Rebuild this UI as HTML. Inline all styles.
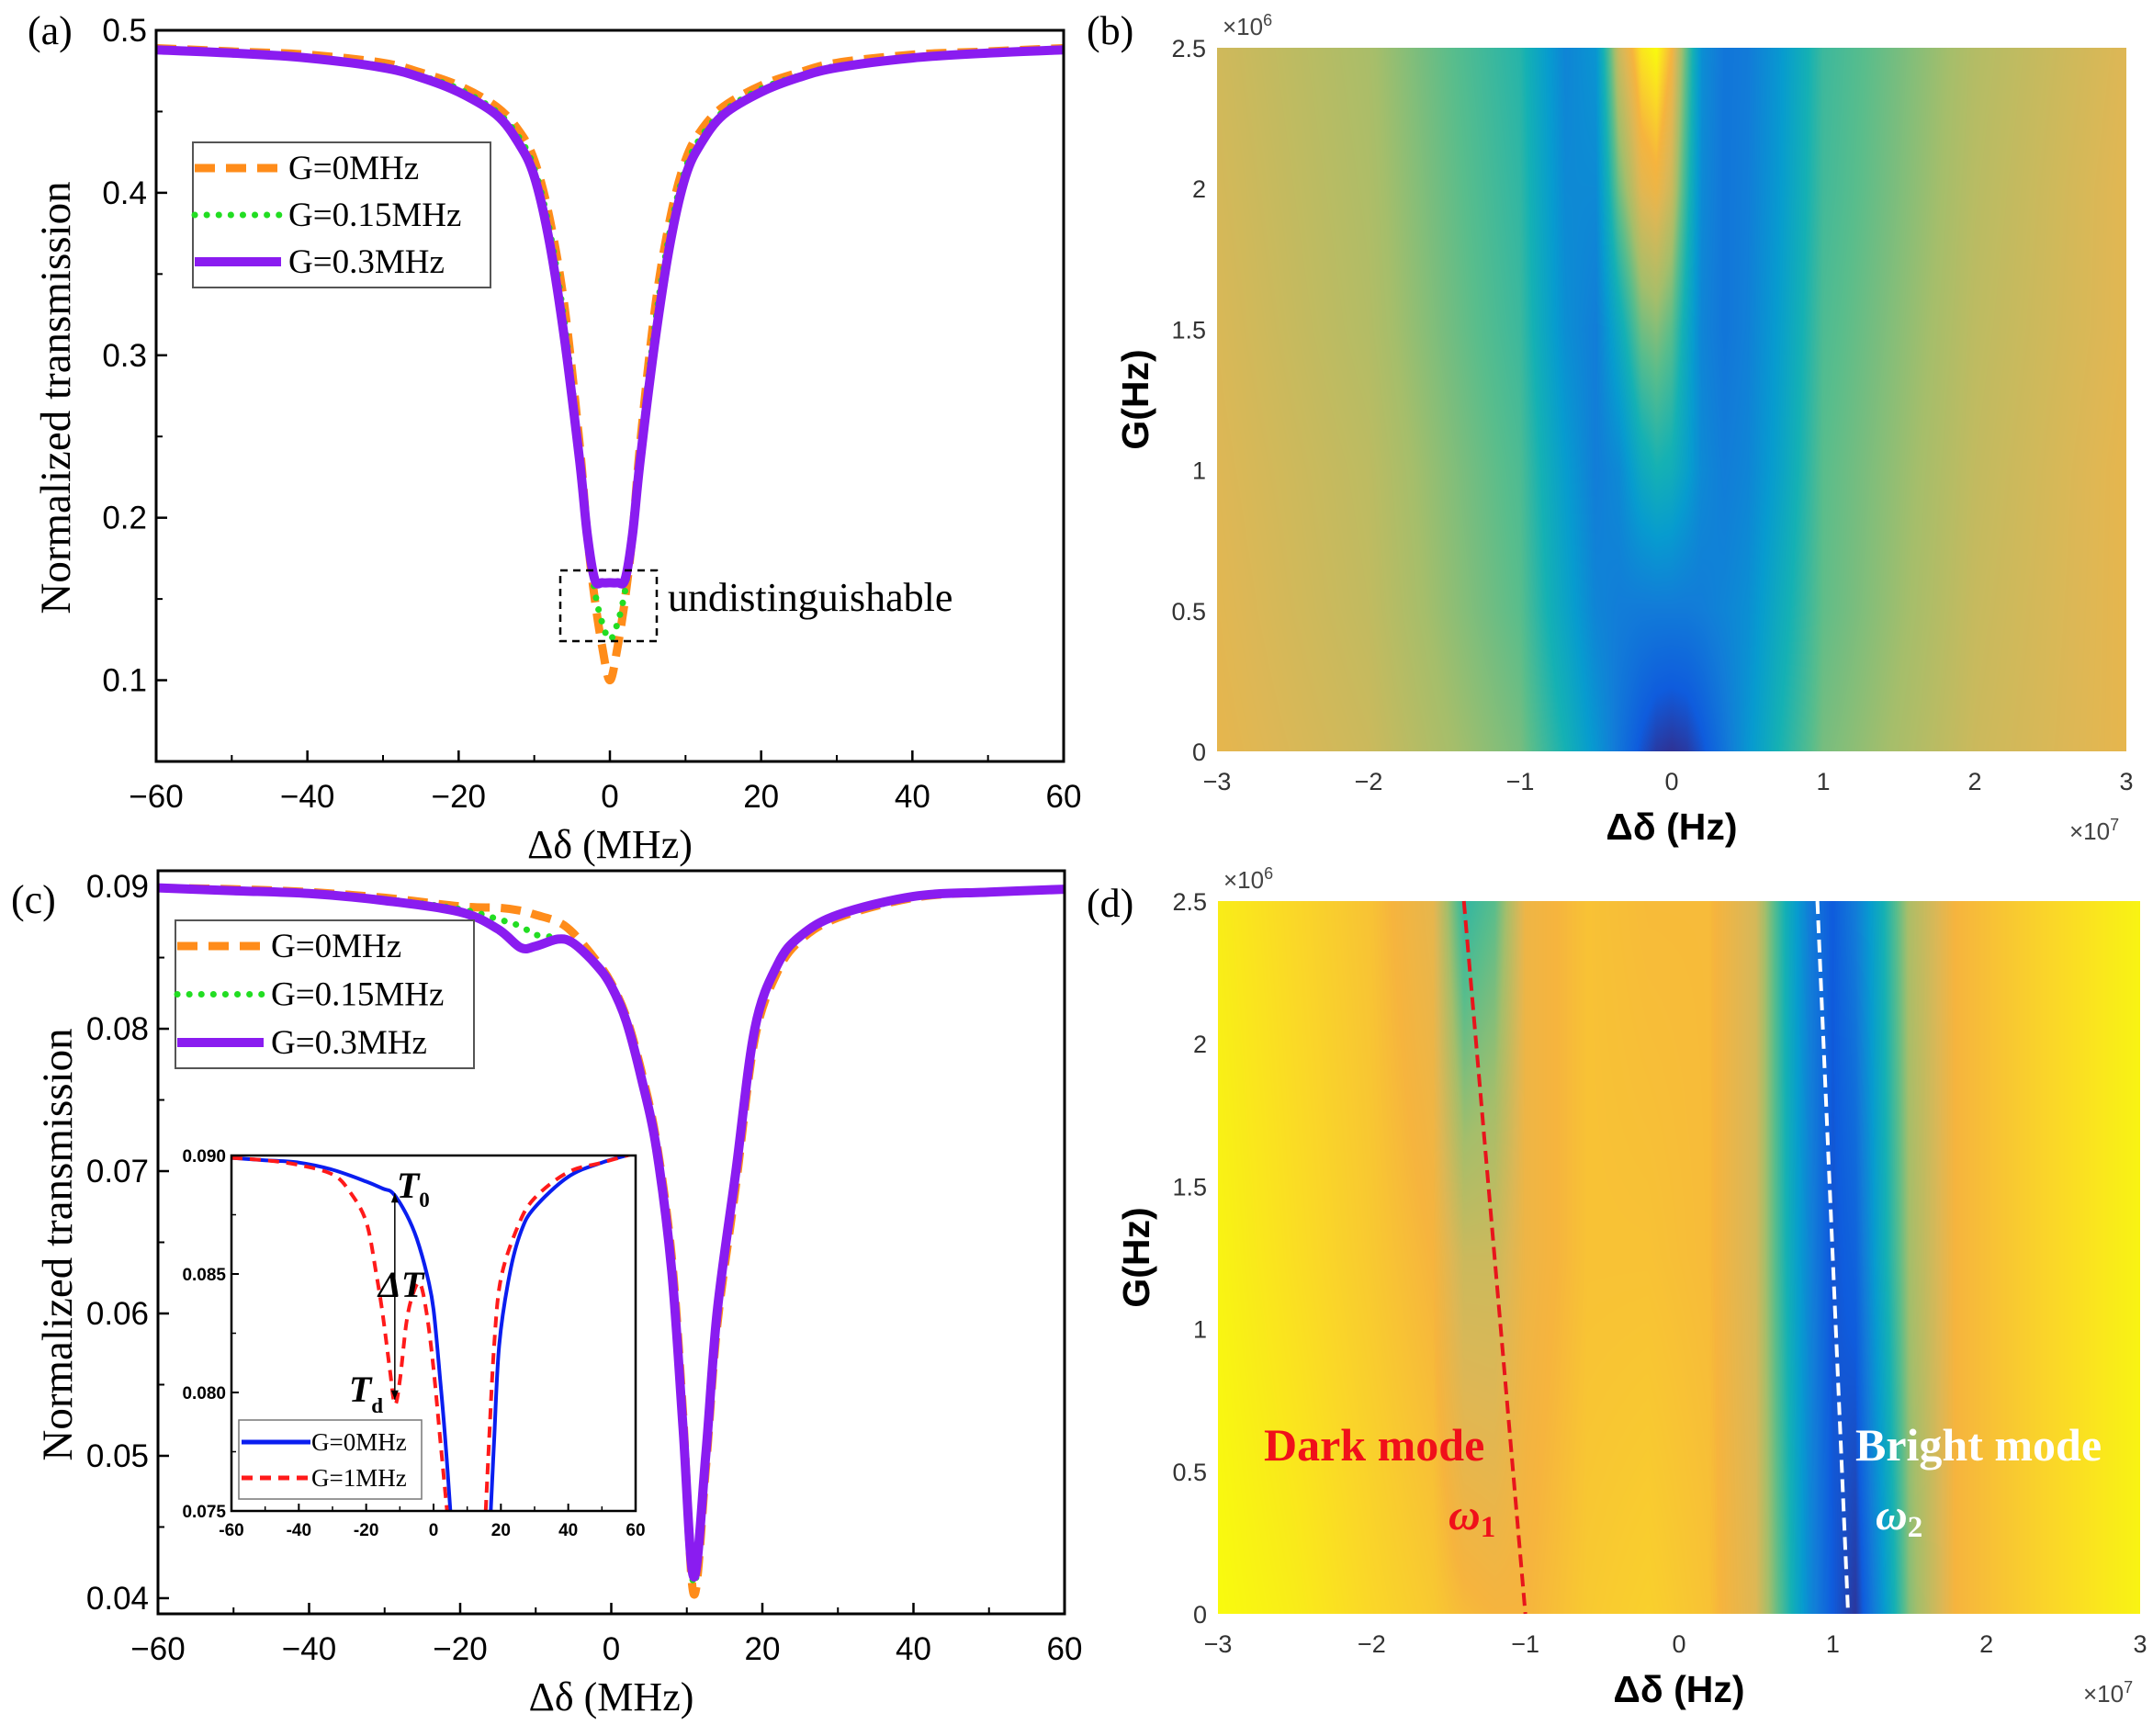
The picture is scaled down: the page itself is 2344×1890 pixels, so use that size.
<!DOCTYPE html>
<html><head><meta charset="utf-8">
<style>
html,body{margin:0;padding:0;background:#fff;}
#wrap{position:relative;width:2344px;height:1890px;overflow:hidden;}
canvas{position:absolute;}
svg{position:absolute;left:0;top:0;}
</style></head>
<body>
<div id="wrap">
<canvas id="hb"></canvas>
<canvas id="hd"></canvas>
<svg id="s" width="2344" height="1890" xmlns="http://www.w3.org/2000/svg"></svg>
</div>
<script>
// ---------- Panel (a) data ----------
const aX = [-60,-50,-40,-30,-25,-20,-15,-12,-10,-8,-6,-4,-3,-2,-1,0,1,2,3,4,6,8,10,12,15,20,25,30,40,50,60];
const aPurple = [0.488,0.486,0.483,0.477,0.471,0.462,0.448,0.43,0.41,0.37,0.31,0.235,0.19,0.162,0.16,0.16,0.16,0.162,0.19,0.235,0.31,0.37,0.41,0.43,0.448,0.462,0.471,0.477,0.483,0.486,0.488];
const aGreen  = [0.488,0.486,0.483,0.478,0.472,0.464,0.45,0.434,0.415,0.378,0.32,0.24,0.19,0.155,0.135,0.125,0.135,0.155,0.19,0.24,0.32,0.378,0.415,0.434,0.45,0.464,0.472,0.478,0.483,0.486,0.488];
const aOrange = [0.489,0.487,0.485,0.480,0.474,0.466,0.453,0.438,0.42,0.385,0.33,0.245,0.19,0.15,0.12,0.10,0.12,0.15,0.19,0.245,0.33,0.385,0.42,0.438,0.453,0.466,0.474,0.480,0.485,0.487,0.489];
const aXTicks = [-60,-40,-20,0,20,40,60];
const aYTicks = [0.1,0.2,0.3,0.4,0.5];
// ---------- Panel (c) data ----------
const cX = [-60,-50,-40,-30,-20,-15,-12,-10,-7,-5,-2,0,2,4,6,8,9.5,10.9,12.5,14,16.5,19,22,25,30,40,50,60];
const cPurple = [0.0899,0.0897,0.0895,0.0890,0.0882,0.0870,0.0857,0.0858,0.0863,0.0860,0.0845,0.0830,0.0805,0.0765,0.0715,0.0630,0.0520,0.0415,0.0500,0.0600,0.0700,0.0800,0.0845,0.0865,0.0880,0.0893,0.0896,0.0898];
const cGreen  = [0.0899,0.0897,0.0895,0.0891,0.0884,0.0877,0.0872,0.0866,0.0864,0.0860,0.0846,0.0831,0.0807,0.0768,0.0718,0.0635,0.0525,0.0410,0.0495,0.0595,0.0695,0.0797,0.0843,0.0864,0.0879,0.0892,0.0896,0.0898];
const cOrange = [0.0899,0.0898,0.0896,0.0892,0.0886,0.0885,0.0883,0.0880,0.0875,0.0867,0.0848,0.0832,0.0808,0.0770,0.0720,0.0640,0.0530,0.0403,0.0490,0.0590,0.0690,0.0793,0.0840,0.0862,0.0878,0.0892,0.0896,0.0898];
const cXTicks = [-60,-40,-20,0,20,40,60];
const cYTicks = [0.04,0.05,0.06,0.07,0.08,0.09];
// ---------- Inset data ----------
const iBlueX = [-60,-50,-40,-30,-20,-15,-12,-8,-5,-2,0,2,3.5,5];
const iBlueY = [0.0899,0.0898,0.0897,0.0894,0.0889,0.0886,0.0884,0.0875,0.0865,0.0850,0.0835,0.0805,0.0780,0.0750];
const iBlueX2 = [17,18,19.5,22.6,26,30,40,50,60];
const iBlueY2 = [0.0750,0.0780,0.0820,0.0850,0.0868,0.0878,0.0891,0.0897,0.0901];
const iRedX = [-60,-50,-40,-30,-25,-20,-17,-15,-13,-11.5,-10,-8,-6,-4,-2,0,2,3,4];
const iRedY = [0.0899,0.0898,0.0896,0.0892,0.0885,0.0872,0.0850,0.0832,0.0810,0.0795,0.0805,0.0830,0.0842,0.0846,0.0833,0.0810,0.0780,0.0765,0.0750];
const iRedX2 = [15.5,16.5,18,20,25,30,40,50,60];
const iRedY2 = [0.0750,0.0780,0.0820,0.0848,0.0870,0.0882,0.0893,0.0897,0.0901];
const iXTicks = [-60,-40,-20,0,20,40,60];
const iYTicks = [0.075,0.080,0.085,0.090];
// ---------- Heatmap (b) data ----------
const bX = [-3,-2,-1,-0.7,-0.5,-0.35,-0.2,-0.1,0,0.1,0.2,0.35,0.5,0.7,1,2,3];
const bG = [0,0.5,1,1.5,2,2.5];
const bV = [
 [.86,.80,.66,.50,.35,.22,.10,.04,.02,.04,.10,.22,.35,.50,.66,.80,.86],
 [.85,.78,.62,.42,.28,.25,.24,.24,.24,.24,.25,.28,.32,.45,.63,.79,.86],
 [.84,.77,.60,.38,.25,.30,.45,.50,.48,.40,.30,.25,.28,.40,.62,.78,.86],
 [.83,.75,.57,.32,.25,.45,.65,.68,.62,.45,.28,.22,.26,.38,.60,.77,.85],
 [.82,.74,.55,.30,.30,.65,.85,.88,.80,.55,.30,.22,.25,.36,.58,.76,.85],
 [.81,.73,.53,.28,.35,.80,.97,1.0,.90,.62,.32,.22,.24,.35,.57,.75,.84]];
// ---------- Heatmap (d) data ----------
const dX = [-3,-2.5,-2,-1.6,-1.4,-1.2,-1,-0.6,-0.2,0.2,0.5,0.7,0.85,1,1.15,1.3,1.5,1.8,2.3,3];
const dG = [0,1.25,2.5];
const dV = [
 [1.0,.98,.95,.93,.91,.90,.90,.93,.94,.92,.84,.55,.30,.12,.03,.30,.68,.90,.94,.99],
 [.99,.96,.93,.90,.80,.80,.88,.92,.92,.91,.82,.50,.28,.10,.15,.42,.72,.90,.94,.99],
 [.98,.95,.92,.86,.55,.62,.88,.92,.91,.91,.82,.48,.25,.12,.25,.45,.74,.90,.94,.99]];
const hXTicks = [-3,-2,-1,0,1,2,3];
const hYTicks = [0,0.5,1,1.5,2,2.5];
const darkLine = [[-1.4,2.5],[-1.0,0]];
const brightLine = [[0.9,2.5],[1.1,0]];

const NS='http://www.w3.org/2000/svg';
const S=document.getElementById('s');
function el(tag,attrs,parent,txt){const e=document.createElementNS(NS,tag);for(const k in attrs)e.setAttribute(k,attrs[k]);if(txt!==undefined)e.textContent=txt;(parent||S).appendChild(e);return e;}
function scale(d0,d1,r0,r1){return v=>r0+(v-d0)/(d1-d0)*(r1-r0);}
function path(xs,ys,fx,fy){
  const P=xs.map((x,i)=>[fx(x),fy(ys[i])]);
  let d='M'+P[0][0].toFixed(1)+' '+P[0][1].toFixed(1);
  for(let i=0;i<P.length-1;i++){
    const p0=P[Math.max(0,i-1)],p1=P[i],p2=P[i+1],p3=P[Math.min(P.length-1,i+2)];
    const c1=[p1[0]+(p2[0]-p0[0])/6,p1[1]+(p2[1]-p0[1])/6];
    const c2=[p2[0]-(p3[0]-p1[0])/6,p2[1]-(p3[1]-p1[1])/6];
    d+=` C${c1[0].toFixed(1)} ${c1[1].toFixed(1)} ${c2[0].toFixed(1)} ${c2[1].toFixed(1)} ${p2[0].toFixed(1)} ${p2[1].toFixed(1)}`;
  }
  return d;
}
const SERIF='"Liberation Serif",serif', SANS='"Liberation Sans",sans-serif';

function linePanel(P){
  const g=el('g',{});
  
  
  const fx=scale(-60,60,P.L,P.R), fy=scale(P.y0,P.y1,P.B,P.T);
  const clip=el('clipPath',{id:P.name+'-clip'},g);el('rect',{x:P.L,y:P.T,width:P.R-P.L,height:P.B-P.T},clip);
  P.xt.forEach(v=>{
    const t=el('line',{x1:fx(v),x2:fx(v),y1:P.B,y2:P.B-12,stroke:'#000','stroke-width':2.5},g);
    
    const l=el('text',{x:fx(v),y:P.B+50,'font-family':SANS,'font-size':35,'text-anchor':'middle'},g,(v<0?'\u2212'+(-v):v));
    
  });
  for(let i=0;i<P.xt.length-1;i++){const m=(P.xt[i]+P.xt[i+1])/2;el('line',{x1:fx(m),x2:fx(m),y1:P.B,y2:P.B-7,stroke:'#000','stroke-width':2},g);}
  P.yt.forEach((v,i)=>{
    const t=el('line',{x1:P.L,x2:P.L+12,y1:fy(v),y2:fy(v),stroke:'#000','stroke-width':2.5},g);
    
    const l=el('text',{x:P.L-10,y:fy(v)+12,'font-family':SANS,'font-size':35,'text-anchor':'end'},g,P.yfmt(v));
    
    if(i<P.yt.length-1){const m=(v+P.yt[i+1])/2;el('line',{x1:P.L,x2:P.L+7,y1:fy(m),y2:fy(m),stroke:'#000','stroke-width':2},g);}
  });
  if(P.yminor!==undefined)el('line',{x1:P.L,x2:P.L+7,y1:fy(P.yminor),y2:fy(P.yminor),stroke:'#000','stroke-width':2},g);
  const cg=el('g',{'clip-path':'url(#'+P.name+'-clip)'},g);
  P.series.forEach(s=>{
    const p=el('path',{d:path(s.x,s.y,fx,fy),fill:'none',stroke:s.c,'stroke-width':s.w,'stroke-dasharray':s.dash||'none','stroke-linecap':s.cap||'butt','stroke-linejoin':'round'},cg);
    
  });
  const f=el('rect',{x:P.L,y:P.T,width:P.R-P.L,height:P.B-P.T,fill:'none',stroke:'#000','stroke-width':3},g);
  
  const xt=el('text',{x:(P.L+P.R)/2,y:P.B+105,'font-family':SERIF,'font-size':44,'text-anchor':'middle'},g,'\u0394\u03b4 (MHz)');
  
  const yt=el('text',{x:0,y:0,transform:`translate(${P.L-94},${P.ytitleY}) rotate(-90)`,'font-family':SERIF,'font-size':47,'text-anchor':'middle'},g,'Normalized transmission');
  
  const lg=el('g',{},g);
  el('rect',{x:P.lg[0],y:P.lg[1],width:P.lg[2],height:P.lg[3],fill:'#fff',stroke:'#555','stroke-width':2},lg);
  P.series.forEach((s,i)=>{
    const y=P.lg[1]+28+i*(P.lg[3]-56)/2;
    const e=el('g',{},lg);
    el('line',{x1:P.lg[0]+2,x2:P.lg[0]+96,y1:y,y2:y,stroke:s.c,'stroke-width':s.w,'stroke-dasharray':s.dash||'none','stroke-linecap':s.cap||'butt'},e);
    el('text',{x:P.lg[0]+104,y:y+12,'font-family':SERIF,'font-size':37},e,s.label);
  });
  return {fx,fy,g};
}
const serA=[
 {n:'series-g0',x:aX,y:aOrange,c:'#ff8c1a',w:9,dash:'22 12',label:'G=0MHz'},
 {n:'series-g015',x:aX,y:aGreen,c:'#22dd22',w:7,dash:'0.1 13',cap:'round',label:'G=0.15MHz'},
 {n:'series-g03',x:aX,y:aPurple,c:'#8a1cf0',w:10,label:'G=0.3MHz'}];
linePanel({name:'panel-a',L:170,R:1158,T:33,B:829,y0:0.05,y1:0.5,xt:aXTicks,yt:aYTicks,yfmt:v=>v.toFixed(1),yminor:0.05,ytitleY:433,
 series:serA,lg:[210,155,324,158]});
const serC=[
 {n:'series-g0',x:cX,y:cOrange,c:'#ff8c1a',w:9,dash:'22 12',label:'G=0MHz'},
 {n:'series-g015',x:cX,y:cGreen,c:'#22dd22',w:7,dash:'0.1 13',cap:'round',label:'G=0.15MHz'},
 {n:'series-g03',x:cX,y:cPurple,c:'#8a1cf0',w:10,label:'G=0.3MHz'}];
linePanel({name:'panel-c',L:172,R:1159,T:948,B:1757,y0:0.0389,y1:0.0911,xt:cXTicks,yt:cYTicks,yfmt:v=>v.toFixed(2),ytitleY:1355,
 series:serC,lg:[191,1002,325,161]});
[['(a)',30,48],['(c)',12,994],['(b)',1183,48],['(d)',1183,998]].forEach(p=>{
  const t=el('text',{x:p[1],y:p[2],'font-family':SERIF,'font-size':44},S,p[0]);
  
});
const ub=el('rect',{x:610,y:621,width:105,height:77,fill:'none',stroke:'#000','stroke-width':2.5,'stroke-dasharray':'8 6'});

const ut=el('text',{x:727,y:665,'font-family':SERIF,'font-size':44},S,'undistinguishable');


// ---------- Inset ----------
(function(){
  const L=252,R=692,T=1258,B=1645;
  const g=el('g',{});
  el('rect',{x:L,y:T,width:R-L,height:B-T,fill:'#fff'},g);
  const fx=scale(-60,60,L,R), fy=scale(0.075,0.090,B,T);
  const clip=el('clipPath',{id:'inset-clip'},g);el('rect',{x:L,y:T,width:R-L,height:B-T},clip);
  iXTicks.forEach((v,i)=>{
    el('line',{x1:fx(v),x2:fx(v),y1:B,y2:B-8,stroke:'#000','stroke-width':2},g);
    if(i<iXTicks.length-1){const m=v+10;el('line',{x1:fx(m),x2:fx(m),y1:B,y2:B-5,stroke:'#000','stroke-width':1.5},g);}
    const t=el('text',{x:fx(v),y:B+27,'font-family':SANS,'font-size':19,'font-weight':'bold','text-anchor':'middle'},g,v);
    
  });
  iYTicks.forEach((v,i)=>{
    el('line',{x1:L,x2:L+8,y1:fy(v),y2:fy(v),stroke:'#000','stroke-width':2},g);
    if(i<iYTicks.length-1)el('line',{x1:L,x2:L+5,y1:fy(v+0.0025),y2:fy(v+0.0025),stroke:'#000','stroke-width':1.5},g);
    const t=el('text',{x:L-6,y:fy(v)+7,'font-family':SANS,'font-size':19,'font-weight':'bold','text-anchor':'end'},g,v.toFixed(3));
    
  });
  const cg=el('g',{'clip-path':'url(#inset-clip)'},g);
  [[iBlueX,iBlueY],[iBlueX2,iBlueY2]].forEach(s=>{const p=el('path',{d:path(s[0],s[1],fx,fy),fill:'none',stroke:'#0a1ef0','stroke-width':4},cg);});
  [[iRedX,iRedY],[iRedX2,iRedY2]].forEach(s=>{const p=el('path',{d:path(s[0],s[1],fx,fy),fill:'none',stroke:'#ff1a1a','stroke-width':4,'stroke-dasharray':'12 8'},cg);});
  el('rect',{x:L,y:T,width:R-L,height:B-T,fill:'none',stroke:'#000','stroke-width':2.5},g);
  const ax=fx(-11.5);
  el('line',{x1:ax,x2:ax,y1:fy(0.0884),y2:fy(0.0797),stroke:'#000','stroke-width':1.5},g);
  el('path',{d:`M${ax-4} ${fy(0.0797)-10} L${ax+4} ${fy(0.0797)-10} L${ax} ${fy(0.0797)} Z`,fill:'#000'},g);
  el('path',{d:`M${ax-4} ${fy(0.0884)+10} L${ax+4} ${fy(0.0884)+10} L${ax} ${fy(0.0884)} Z`,fill:'#000'},g);
  const t0=el('text',{x:ax+2,y:fy(0.0886)+10,'font-family':SERIF,'font-size':40,'font-style':'italic','font-weight':'bold'},g,'T');
  el('tspan',{'font-size':23,'font-style':'normal',dy:10},t0,'0');
  
  const dt=el('text',{x:ax-18,y:fy(0.0845)+12,'font-family':SERIF,'font-size':40,'font-style':'italic','font-weight':'bold'},g,'\u0394T');
  
  const td=el('text',{x:ax-50,y:fy(0.0800)+10,'font-family':SERIF,'font-size':40,'font-style':'italic','font-weight':'bold'},g,'T');
  el('tspan',{'font-size':23,'font-style':'normal',dy:12},td,'d');
  
  const lg=el('g',{},g);
  el('rect',{x:260,y:1546,width:199,height:86,fill:'#fff',stroke:'#777','stroke-width':1.5},lg);
  el('line',{x1:263,x2:338,y1:1570,y2:1570,stroke:'#0a1ef0','stroke-width':5},lg);
  el('text',{x:339,y:1579,'font-family':SERIF,'font-size':27},lg,'G=0MHz');
  el('line',{x1:263,x2:338,y1:1609,y2:1609,stroke:'#ff1a1a','stroke-width':5,'stroke-dasharray':'12 8'},lg);
  el('text',{x:339,y:1618,'font-family':SERIF,'font-size':27},lg,'G=1MHz');
})();

// ---------- Heatmaps ----------
const parula=[[53,42,135],[15,92,221],[18,125,216],[7,156,207],[21,177,180],[89,189,140],[165,190,107],[222,183,85],[246,180,62],[250,215,40],[249,251,14]];
const pStops=[0,0.12,0.25,0.375,0.5,0.62,0.72,0.84,0.9,0.95,1];
function cmap(v){v=Math.max(0,Math.min(1,v));let i=0;while(i<pStops.length-2&&v>pStops[i+1])i++;const t=(v-pStops[i])/(pStops[i+1]-pStops[i]);const a=parula[i],b=parula[i+1];return [a[0]+(b[0]-a[0])*t,a[1]+(b[1]-a[1])*t,a[2]+(b[2]-a[2])*t];}
function interp(arr,v){let i=0;while(i<arr.length-2&&v>arr[i+1])i++;return [i,Math.max(0,Math.min(1,(v-arr[i])/(arr[i+1]-arr[i])))];}
function heat(id,H,xs,gs,vals){
  const cv=document.getElementById(id);const w=H.R-H.L,h=H.B-H.T;
  cv.width=w;cv.height=h;cv.style.left=H.L+'px';cv.style.top=H.T+'px';
  const ctx=cv.getContext('2d');const img=ctx.createImageData(w,h);
  for(let py=0;py<h;py++){const G=2.5*(1-py/(h-1));const [gi,gt]=interp(gs,G);
    for(let px=0;px<w;px++){const x=-3+6*px/(w-1);
      const [xi,xt]=interp(xs,x);
      const v0=vals[gi][xi]+(vals[gi][xi+1]-vals[gi][xi])*xt;
      const v1=vals[gi+1][xi]+(vals[gi+1][xi+1]-vals[gi+1][xi])*xt;
      const c=cmap(v0+(v1-v0)*gt);const k=(py*w+px)*4;img.data[k]=c[0];img.data[k+1]=c[1];img.data[k+2]=c[2];img.data[k+3]=255;}}
  ctx.putImageData(img,0,0);
  const fx=scale(-3,3,H.L,H.R), fy=scale(0,2.5,H.B,H.T);
  hXTicks.forEach(v=>{const t=el('text',{x:fx(v),y:H.B+42,'font-family':SANS,'font-size':27,fill:'#333','text-anchor':'middle'},S,(v<0?'\u2212'+(-v):v));});
  hYTicks.forEach(v=>{const t=el('text',{x:H.L-12,y:fy(v)+10,'font-family':SANS,'font-size':27,fill:'#333','text-anchor':'end'},S,v);});
  const e6=el('text',{x:H.L+6,y:H.T-14,'font-family':SANS,'font-size':26,fill:'#444'},S,'\u00d710');el('tspan',{'font-size':18,dy:-10},e6,'6');
  
  const e7=el('text',{x:H.R-62,y:H.B+96,'font-family':SANS,'font-size':26,fill:'#444'},S,'\u00d710');el('tspan',{'font-size':18,dy:-10},e7,'7');
  
  const xt=el('text',{x:(H.L+H.R)/2,y:H.B+96,'font-family':SANS,'font-size':41,'font-weight':'bold','text-anchor':'middle'},S,'\u0394\u03b4 (Hz)');
  
  const yt=el('text',{x:0,y:0,transform:`translate(${H.L-75},${(H.T+H.B)/2}) rotate(-90)`,'font-family':SANS,'font-size':41,'font-weight':'bold','text-anchor':'middle'},S,'G(Hz)');
  
  return {fx,fy};
}
heat('hb',{L:1325,R:2315,T:52,B:818},bX,bG,bV);
const D=heat('hd',{L:1326,R:2330,T:981,B:1757},dX,dG,dV);
const dl=el('line',{x1:D.fx(darkLine[0][0]),y1:D.fy(darkLine[0][1]),x2:D.fx(darkLine[1][0]),y2:D.fy(darkLine[1][1]),stroke:'#e8141c','stroke-width':4,'stroke-dasharray':'14 7'});

const bl=el('line',{x1:D.fx(brightLine[0][0]),y1:D.fy(brightLine[0][1]),x2:D.fx(brightLine[1][0]),y2:D.fy(brightLine[1][1]),stroke:'#fff','stroke-width':4,'stroke-dasharray':'14 7'});

const t1=el('text',{x:1376,y:1590,'font-family':SERIF,'font-size':50,'font-weight':'bold',fill:'#f0101a'},S,'Dark mode');

const w1=el('text',{x:1577,y:1665,'font-family':SERIF,'font-size':48,'font-weight':'bold','font-style':'italic',fill:'#f0101a'},S,'\u03c9');el('tspan',{'font-size':33,'font-style':'normal',dy:8},w1,'1');

const t2=el('text',{x:2020,y:1590,'font-family':SERIF,'font-size':50,'font-weight':'bold',fill:'#ffffff'},S,'Bright mode');

const w2=el('text',{x:2042,y:1665,'font-family':SERIF,'font-size':48,'font-weight':'bold','font-style':'italic',fill:'#ffffff'},S,'\u03c9');el('tspan',{'font-size':33,'font-style':'normal',dy:8},w2,'2');

</script>
</body></html>
